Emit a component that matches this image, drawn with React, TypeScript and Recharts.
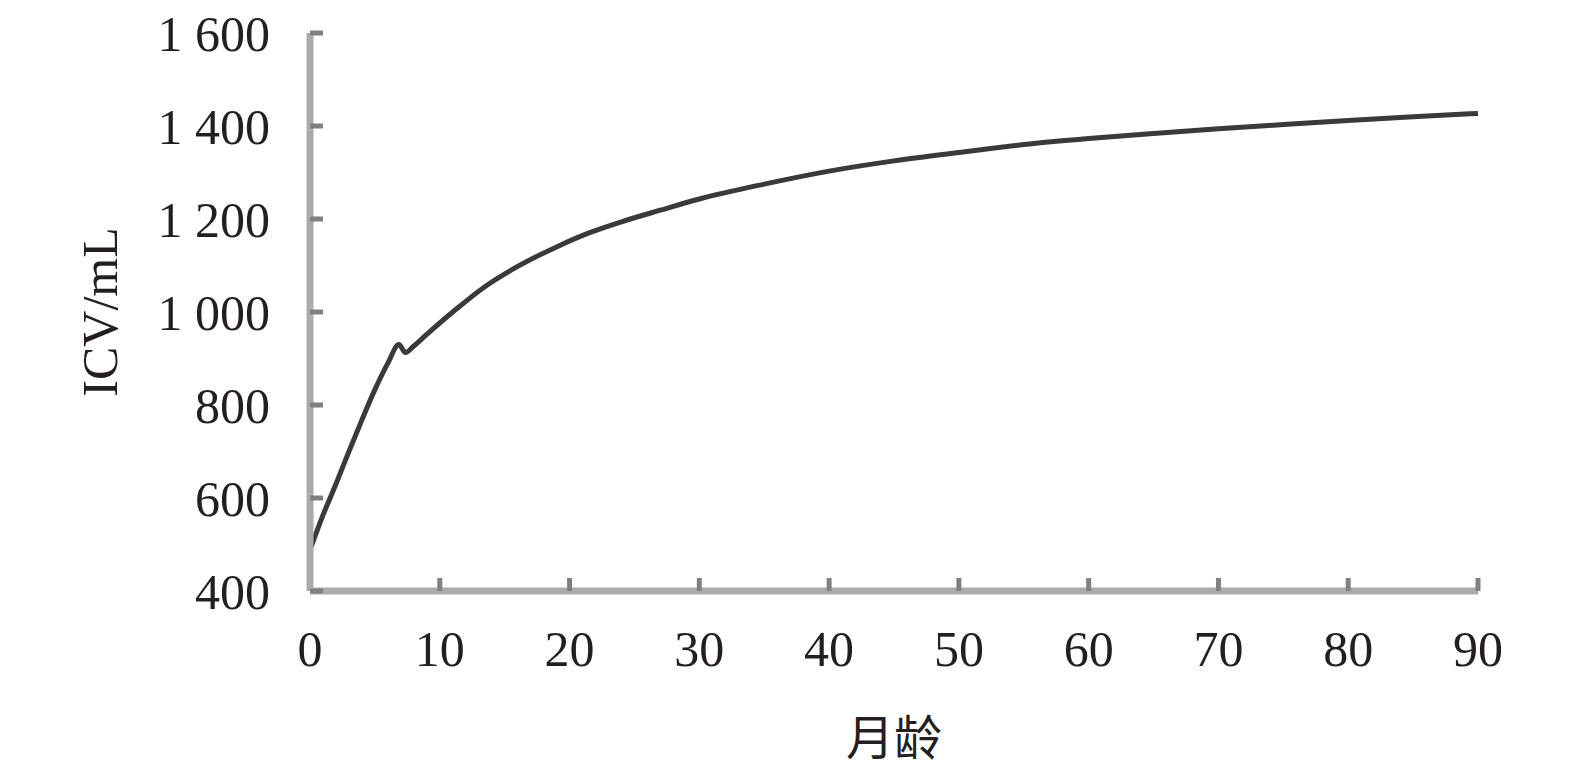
import React from 'react';
import { LineChart, Line, XAxis, YAxis } from 'recharts';

const ageMonths = [0, 1, 2, 3, 4, 5, 6, 6.85, 7.35, 8, 9, 11, 13.5, 16, 19, 21.5, 24, 27, 30, 35, 40, 45, 50, 55, 60, 65, 70, 75, 80, 85, 90];
const icvValues = [488, 563, 630, 700, 768, 833, 890, 930, 913, 927, 952, 1000, 1055, 1098, 1140, 1170, 1194, 1219, 1243, 1275, 1303, 1325, 1343, 1360, 1373, 1384, 1394, 1403, 1412, 1420, 1427];
const xTicks = [0, 10, 20, 30, 40, 50, 60, 70, 80, 90];
const yTicks = [400, 600, 800, 1000, 1200, 1400, 1600];

const data = ageMonths.map((m, i) => ({ m, v: icvValues[i] }));

const SERIF = '"Liberation Serif", "DejaVu Serif", serif';
const TEXT = '#231f20';

const fmtY = (v: number) =>
  v >= 1000 ? `${Math.floor(v / 1000)} ${String(v % 1000).padStart(3, '0')}` : String(v);

const YLabel = (props: any) => {
  const vb = props.viewBox;
  const cx = vb.x + 100;
  const cy = vb.y + vb.height / 2;
  return (
    <text
      x={cx}
      y={cy}
      transform={`rotate(-90, ${cx}, ${cy})`}
      textAnchor="middle"
      dominantBaseline="central"
      fontFamily={SERIF}
      fontSize={50}
      fill={TEXT}
    >
      ICV/mL
    </text>
  );
};

const XLabel = (props: any) => {
  const vb = props.viewBox;
  const cx = vb.x + vb.width / 2;
  const cy = vb.y + 143;
  return (
    <text
      x={cx}
      y={cy}
      textAnchor="middle"
      dominantBaseline="central"
      fontFamily={'"Noto Sans CJK SC", sans-serif'}
      fontSize={48}
      fill={TEXT}
    >
      月龄
    </text>
  );
};

export default function App() {
  return (
    <div style={{ position: 'absolute', left: 0, top: 0, background: '#fff' }}>
      <LineChart
        width={1575}
        height={772}
        data={data}
        margin={{ top: 33, right: 97, left: 0, bottom: 0 }}
      >
        <XAxis
          dataKey="m"
          type="number"
          domain={[0, 90]}
          ticks={xTicks}
          height={181}
          axisLine={{ stroke: '#ababab', strokeWidth: 7 }}
          tickLine={{ stroke: '#808080', strokeWidth: 5 }}
          tickSize={-13}
          tickMargin={52}
          tick={{ fontFamily: SERIF, fontSize: 50, fill: TEXT }}
          label={<XLabel />}
        />
        <YAxis
          type="number"
          domain={[400, 1600]}
          ticks={yTicks}
          width={310}
          interval={0}
          allowDataOverflow
          axisLine={{ stroke: '#ababab', strokeWidth: 7 }}
          tickLine={{ stroke: '#808080', strokeWidth: 5 }}
          tickSize={-13}
          tickMargin={53}
          tickFormatter={fmtY}
          tick={{ fontFamily: SERIF, fontSize: 50, fill: TEXT }}
          label={<YLabel />}
        />
        <Line
          type="monotone"
          dataKey="v"
          stroke="#3a3a3a"
          strokeWidth={5}
          dot={false}
          isAnimationActive={false}
        />
      </LineChart>
    </div>
  );
}
